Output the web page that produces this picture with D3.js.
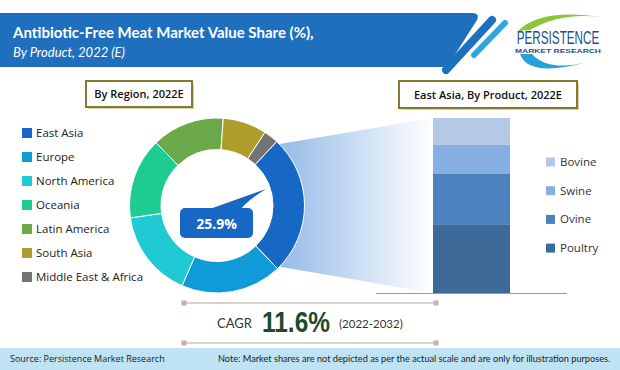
<!DOCTYPE html>
<html lang="en">
<head>
<meta charset="UTF-8">
<title>Antibiotic-Free Meat Market Value Share</title>
<script src="https://d3js.org/d3.v7.min.js"></script>
<style>
  body { margin: 0; background: #fff; }
  svg { display: block; font-family: "Open Sans", "Noto Sans", sans-serif; }
</style>
</head>
<body>
<script>
// region shares (%), clockwise from East Asia
const regions = ["East Asia", "Europe", "North America", "Oceania", "Latin America", "South Asia", "Middle East & Africa"];
const regionShare = [25.9, 18.7, 16.2, 15.0, 13.4, 8.1, 2.7];
const regionColors = ["#1668c4", "#109bd8", "#1fcad5", "#1ecc92", "#6aa84a", "#ad9e2b", "#737373"];

// East Asia by product (%), bottom to top
const products = ["Poultry", "Ovine", "Swine", "Bovine"];
const productShare = [38.9, 29.1, 16.6, 15.4];
const productColors = ["#3d6a98", "#4b82bd", "#86aee0", "#b5c8e6"];

const width = 620, height = 370;
const svg = d3.select("body").append("svg")
    .attr("width", width)
    .attr("height", height);

const defs = svg.append("defs");

// ---- title banner ----
svg.append("path")
    .attr("d", "M0,13 H472 Q480,13 477,20 L447,67 H0 Z")
    .attr("fill", "#1f6fbf");
svg.append("line")
    .attr("x1", 492).attr("y1", 20).attr("x2", 446).attr("y2", 70)
    .attr("stroke", "#1f6fbf").attr("stroke-width", 8).attr("stroke-linecap", "round");
svg.append("line")
    .attr("x1", 505).attr("y1", 23).attr("x2", 474).attr("y2", 55)
    .attr("stroke", "#2ea6e2").attr("stroke-width", 6).attr("stroke-linecap", "round");

svg.append("text")
    .attr("x", 13).attr("y", 38)
    .attr("fill", "#fff")
    .style("font-family", "Lato, sans-serif")
    .style("font-weight", "bold")
    .style("font-size", "15px")
    .text("Antibiotic-Free Meat Market Value Share (%),");
svg.append("text")
    .attr("x", 13).attr("y", 57)
    .attr("fill", "#fff")
    .style("font-family", "Lato, sans-serif")
    .style("font-style", "italic")
    .style("font-size", "13px")
    .text("By Product, 2022 (E)");

// ---- logo ----
const logo = svg.append("g");
logo.append("path")
    .attr("d", "M518,31 Q540,8 602,17 Q560,12 530,30 Z")
    .attr("fill", "#8cc63f");
logo.append("path")
    .attr("d", "M520,54 Q528,78 588,62 Q548,72 532,54 Z")
    .attr("fill", "#2a9fd8");
logo.append("text")
    .attr("x", 558).attr("y", 44)
    .attr("text-anchor", "middle")
    .attr("fill", "#1c4f8c")
    .style("font-family", "'Liberation Sans', sans-serif")
    .style("font-size", "15px")
    .attr("transform", "translate(558,44) scale(0.78,1.2) translate(-558,-44)")
    .text("PERSISTENCE");
logo.append("text")
    .attr("x", 558).attr("y", 53)
    .attr("text-anchor", "middle")
    .attr("fill", "#1c4f8c")
    .style("font-family", "'Liberation Sans', sans-serif")
    .style("font-weight", "bold")
    .style("font-size", "6px")
    .attr("textLength", 86)
    .attr("lengthAdjust", "spacingAndGlyphs")
    .text("MARKET RESEARCH");

// ---- section header boxes ----
function headerBox(x, y, w, h, label) {
    svg.append("rect")
        .attr("x", x + 2).attr("y", y + 2).attr("width", w).attr("height", h)
        .attr("fill", "#d8d2b0");
    svg.append("rect")
        .attr("x", x).attr("y", y).attr("width", w).attr("height", h)
        .attr("fill", "#fff").attr("stroke", "#857a2c").attr("stroke-width", 2);
    svg.append("text")
        .attr("x", x + w / 2).attr("y", y + h / 2 + 4)
        .attr("text-anchor", "middle")
        .style("font-size", "11px")
        .style("font-weight", "600")
        .attr("fill", "#111")
        .text(label);
}
headerBox(86, 81, 106, 26, "By Region, 2022E");
headerBox(399, 81, 178, 27, "East Asia, By Product, 2022E");

// ---- donut ----
const cx = 217, cy = 205.5;
const outerR = 87.5, innerR = 56;
const startA = 43 * Math.PI / 180;

const pie = d3.pie().sort(null).value(d => d)
    .startAngle(startA).endAngle(startA + 2 * Math.PI);
const arc = d3.arc().innerRadius(innerR).outerRadius(outerR);
const slices = pie(regionShare);

// stacked bar scales
const barX = 433, barW = 77;
const y = d3.scaleLinear().domain([0, 100]).range([293, 118]);

// gradient connector from the East Asia slice to the bar
const grad = defs.append("linearGradient").attr("id", "fan")
    .attr("x1", "0%").attr("x2", "100%").attr("y1", "0%").attr("y2", "0%");
grad.append("stop").attr("offset", "0%").attr("stop-color", "#8fb8e6");
grad.append("stop").attr("offset", "100%").attr("stop-color", "#ffffff");

const ea = slices[0];
const p0 = [cx + outerR * Math.sin(ea.startAngle + 0.06) - 8, cy - outerR * Math.cos(ea.startAngle + 0.06)];
const p1 = [cx + outerR * Math.sin(ea.endAngle - 0.04) - 3, cy - outerR * Math.cos(ea.endAngle - 0.04)];
svg.append("path")
    .attr("d", `M${p0[0]},${p0[1]} L${barX},${y(100)} L${barX},${y(0)} L${p1[0]},${p1[1]} Z`)
    .attr("fill", "url(#fan)");

const donut = svg.append("g").attr("transform", `translate(${cx},${cy})`);
donut.selectAll("path")
    .data(slices)
    .join("path")
    .attr("d", arc)
    .attr("fill", (d, i) => regionColors[i])
    .attr("stroke", "#fff")
    .attr("stroke-width", 1);

// callout
const call = svg.append("g");
call.append("path")
    .attr("d", "M207,210 L266,189 Q248,200 240,210 Z")
    .attr("fill", "#1668c4");
call.append("rect")
    .attr("x", 180).attr("y", 208).attr("width", 73).attr("height", 30)
    .attr("rx", 5)
    .attr("fill", "#1668c4");
call.append("text")
    .attr("x", 216.5).attr("y", 228.5)
    .attr("text-anchor", "middle")
    .attr("fill", "#fff")
    .style("font-weight", "bold")
    .style("font-size", "14px")
    .text(regionShare[0].toFixed(1) + "%");

// region legend
const legL = svg.append("g");
regions.forEach((r, i) => {
    const yy = 133 + i * 24;
    legL.append("rect")
        .attr("x", 22).attr("y", yy - 5).attr("width", 10).attr("height", 10)
        .attr("fill", regionColors[i]);
    legL.append("text")
        .attr("x", 36).attr("y", yy + 4)
        .style("font-size", "11.5px")
        .attr("fill", "#222")
        .text(r);
});

// ---- stacked bar ----
let acc = 0;
const stacked = productShare.map((v, i) => {
    const s = { name: products[i], y0: acc, y1: acc + v, color: productColors[i] };
    acc += v;
    return s;
});
svg.append("g").selectAll("rect")
    .data(stacked)
    .join("rect")
    .attr("x", barX)
    .attr("width", barW)
    .attr("y", d => y(d.y1))
    .attr("height", d => y(d.y0) - y(d.y1))
    .attr("fill", d => d.color);

svg.append("line")
    .attr("x1", 376).attr("x2", 567)
    .attr("y1", y(0) + 0.5).attr("y2", y(0) + 0.5)
    .attr("stroke", "#9a9a9a").attr("stroke-width", 1);

// product legend (top to bottom: Bovine ... Poultry)
const legR = svg.append("g");
products.slice().reverse().forEach((p, i) => {
    const yy = 162 + i * 28.7;
    const ci = products.indexOf(p);
    legR.append("rect")
        .attr("x", 546).attr("y", yy - 4.5).attr("width", 9).attr("height", 9)
        .attr("fill", productColors[ci]);
    legR.append("text")
        .attr("x", 560).attr("y", yy + 4)
        .style("font-size", "11.5px")
        .attr("fill", "#333")
        .text(p);
});

// ---- CAGR ----
function rule(yy) {
    svg.append("line")
        .attr("x1", 184).attr("x2", 436).attr("y1", yy).attr("y2", yy)
        .attr("stroke", "#b6a79f").attr("stroke-width", 1.2);
    [184, 436].forEach(x => svg.append("rect")
        .attr("x", x - 2.5).attr("y", yy - 2.5).attr("width", 5).attr("height", 5)
        .attr("fill", "#c4b2a8"));
}
rule(303);
rule(343);

svg.append("text")
    .attr("x", 217).attr("y", 328)
    .style("font-family", "Lato, sans-serif")
    .style("font-size", "13px")
    .attr("fill", "#333")
    .text("CAGR");
svg.append("text")
    .attr("x", 262).attr("y", 332)
    .style("font-family", "'Liberation Sans', sans-serif")
    .style("font-weight", "bold")
    .style("font-size", "29px")
    .attr("fill", "#1d4a2c")
    .attr("textLength", 68)
    .attr("lengthAdjust", "spacingAndGlyphs")
    .text("11.6%");
svg.append("text")
    .attr("x", 339).attr("y", 328)
    .style("font-family", "Lato, sans-serif")
    .style("font-size", "11.5px")
    .attr("fill", "#333")
    .text("(2022-2032)");

// ---- footer ----
svg.append("rect")
    .attr("x", 0).attr("y", 348).attr("width", width).attr("height", 22)
    .attr("fill", "#bfe3f3");
svg.append("text")
    .attr("x", 10).attr("y", 362)
    .style("font-size", "9px")
    .attr("fill", "#222")
    .text("Source: Persistence Market Research");
svg.append("text")
    .attr("x", 218).attr("y", 362)
    .style("font-family", "Lato, sans-serif")
    .style("font-size", "9.2px")
    .attr("fill", "#222")
    .text("Note: Market shares are not depicted as per the actual scale and are only for illustration purposes.");
</script>
</body>
</html>
